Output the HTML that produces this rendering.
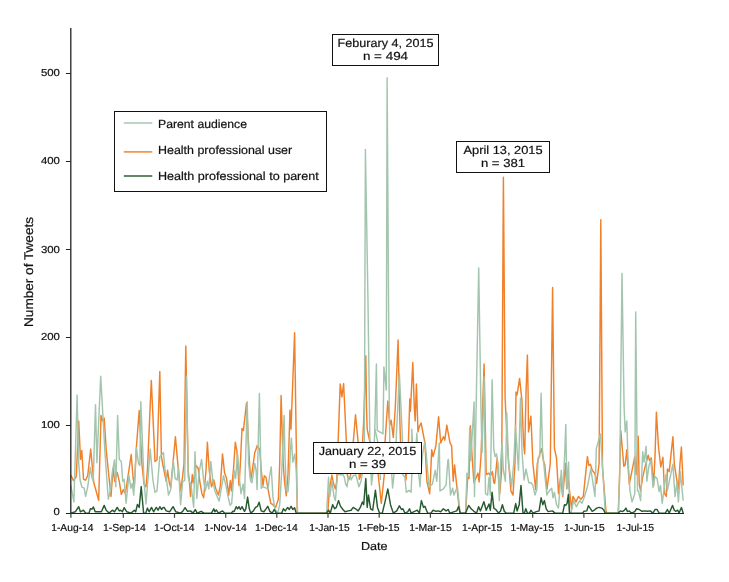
<!DOCTYPE html><html><head><meta charset="utf-8"><title>Tweets chart</title><style>html,body{margin:0;padding:0;background:#fff}svg{display:block;text-rendering:geometricPrecision}text{font-family:"Liberation Sans",sans-serif;fill:#111;stroke:#111;stroke-width:.2px}</style></head><body>
<svg width="729" height="582" viewBox="0 0 729 582">
<defs><filter id="gs" x="0" y="0" width="729" height="582" filterUnits="userSpaceOnUse" color-interpolation-filters="sRGB"><feColorMatrix type="saturate" values="0"/></filter></defs>
<rect width="729" height="582" fill="#fff"/>
<g fill="none" stroke-linejoin="round" stroke-linecap="butt" stroke-width="1.45">
<polyline points="70.8,475.1 73.5,480.6 76.3,476.5 78.7,420.9 80.5,459.4 81.8,450.4 83.5,479.3 85.6,480.2 87.7,475.8 90.7,449.1 92.2,465.5 93.8,482.7 98.7,500.3 101.0,415.4 102.5,420.9 104.2,418.2 106.2,449.7 109.0,477.2 111.0,496.4 113.1,468.3 114.7,481.3 117.2,472.4 119.3,481.3 121.3,494.4 123.4,489.6 125.4,493.7 128.9,470.3 131.2,454.5 133.0,477.2 134.4,486.8 136.4,447.0 139.2,410.6 141.9,463.5 144.0,484.1 146.0,486.8 147.4,470.3 151.3,380.4 155.0,461.4 157.0,460.0 159.8,371.5 161.4,456.6 163.0,465.5 166.2,481.3 167.6,470.3 169.3,482.7 170.7,487.5 175.4,436.7 177.9,464.9 180.6,490.9 182.7,475.8 184.0,463.5 185.8,346.0 188.2,470.3 189.5,482.7 190.5,496.4 192.3,474.5 193.4,482.7 196.0,465.5 198.2,468.3 199.8,481.3 201.9,493.7 203.7,497.8 206.0,470.3 207.4,442.2 209.2,470.3 211.5,486.8 213.8,480.0 215.6,488.2 218.4,495.1 220.4,485.4 222.5,453.9 224.6,473.1 226.6,478.6 228.7,495.1 230.3,480.6 231.4,490.9 233.5,469.0 235.3,442.2 236.9,451.1 239.0,485.4 240.4,463.5 242.0,428.5 243.4,430.6 246.5,403.1 249.3,459.4 250.7,480.0 252.3,470.3 254.8,452.5 256.8,447.0 257.1,445.6 259.8,449.7 261.2,470.3 263.0,485.4 264.3,475.8 266.0,477.2 268.1,489.6 270.8,503.3 272.9,504.7 275.6,507.4 278.4,499.2 279.7,463.5 281.1,395.5 283.2,463.5 284.5,481.3 286.3,495.8 288.0,474.5 290.0,410.0 291.0,429.2 294.6,332.8 297.3,513.1 327.8,513.1 329.2,490.9 330.3,484.1 331.9,475.1 333.6,484.1 335.4,488.9 336.7,481.3 340.2,383.9 341.9,396.9 343.6,383.6 346.4,442.2 347.3,474.5 348.7,480.0 350.5,475.8 355.5,414.8 358.2,442.9 359.3,479.3 360.7,475.8 363.7,420.9 365.8,355.8 366.5,407.2 367.2,429.2 369.2,438.8 378.2,474.5 381.3,503.3 384.3,474.5 385.0,442.9 387.8,401.0 389.8,425.1 391.2,420.3 393.3,437.4 395.3,407.2 398.1,340.0 399.2,393.5 400.1,429.2 401.5,470.0 404.0,450.0 406.0,480.0 408.4,442.9 409.8,399.0 410.4,411.3 412.8,362.4 414.3,407.2 415.2,420.9 416.4,383.9 418.0,431.9 419.4,426.4 421.1,423.0 424.9,442.9 426.9,481.3 429.7,493.7 431.7,449.7 433.1,456.6 435.9,445.6 438.6,416.8 440.7,442.9 443.4,436.7 444.8,440.2 446.8,425.1 450.0,442.9 451.6,445.6 453.2,481.3 454.6,464.9 456.7,485.4 459.4,510.2 460.8,513.1 465.6,513.1 467.7,477.2 469.0,478.6 470.4,425.8 472.1,456.6 473.9,482.7 478.0,473.1 479.1,482.0 481.0,456.6 484.1,364.0 486.2,474.5 489.0,473.1 490.3,475.8 492.4,471.7 493.8,482.7 494.7,483.4 497.2,458.0 499.7,493.7 501.7,470.0 503.4,177.3 505.1,398.0 506.8,432.0 508.2,456.6 510.9,490.9 513.0,495.1 515.0,463.5 516.0,392.1 517.1,394.9 519.6,378.4 521.9,400.3 523.6,444.2 524.7,453.9 526.0,393.5 527.4,355.1 528.1,393.5 528.5,431.9 530.9,416.1 532.9,463.5 535.7,489.6 537.3,463.5 539.8,453.9 541.6,448.4 543.4,460.7 544.8,464.9 546.9,489.6 550.3,463.5 552.6,287.5 554.4,448.4 556.5,458.0 558.5,493.7 560.6,477.2 562.7,496.4 564.0,481.3 565.4,463.5 566.8,488.9 568.2,477.2 569.5,490.3 571.6,509.5 573.0,496.4 576.0,501.9 578.5,496.4 580.9,499.2 583.3,496.4 587.4,456.6 588.8,465.5 590.4,464.2 592.2,470.3 595.0,473.8 596.6,483.4 599.1,463.5 600.8,219.6 602.5,468.0 605.9,510.2 606.6,513.1 618.3,513.1 619.7,470.3 620.8,430.6 622.4,449.7 623.8,466.2 625.2,464.9 626.8,449.7 629.3,484.1 634.8,456.6 636.1,474.5 638.2,436.1 639.2,484.1 640.6,490.9 642.7,477.2 645.4,465.5 648.2,455.2 649.5,460.7 651.3,458.0 653.6,485.4 655.0,456.6 656.4,412.3 658.5,447.0 660.8,466.9 662.9,457.3 664.6,493.7 666.3,496.4 667.4,469.0 669.2,471.7 670.8,456.6 672.9,436.7 674.3,463.5 676.3,477.2 678.4,488.9 680.0,463.5 681.4,447.0 683.2,485.4" stroke="#f0812b"/>
<polyline points="70.8,485.4 73.9,501.9 77.1,395.1 78.7,463.5 80.1,480.0 81.8,486.8 84.2,488.2 85.6,496.4 87.7,486.8 90.4,467.6 91.8,477.2 93.2,481.3 95.5,404.7 96.9,462.8 100.7,376.3 104.8,449.7 106.2,470.3 108.3,499.2 110.3,490.9 112.4,471.7 114.5,460.0 115.8,486.8 117.6,415.4 119.3,459.4 121.3,461.4 122.7,481.3 124.1,479.3 126.1,503.3 128.9,475.1 130.9,488.2 132.3,483.4 133.7,495.1 136.4,447.7 138.5,463.5 139.9,465.5 140.8,401.7 144.0,481.3 146.0,504.0 148.1,477.2 150.2,449.1 152.9,480.0 155.0,492.3 157.0,490.9 159.8,456.6 160.0,456.6 163.4,452.5 164.8,467.6 166.9,482.7 168.5,495.1 170.7,489.6 173.3,460.7 175.1,478.6 177.2,480.0 178.5,467.6 180.6,504.7 182.7,481.3 184.7,480.6 186.4,376.3 188.2,477.2 189.3,481.3 190.9,484.1 193.7,507.4 195.0,451.8 196.8,498.5 199.2,471.7 201.6,459.4 203.7,481.3 205.3,490.9 207.4,481.3 208.8,488.9 210.8,461.4 212.9,481.3 214.9,490.9 219.1,501.2 223.5,475.8 225.9,485.4 228.0,496.4 230.1,505.4 231.7,503.3 234.2,470.3 235.6,478.6 237.6,453.9 239.7,481.3 241.0,493.7 243.1,484.1 244.5,498.5 247.2,401.7 248.6,463.5 250.7,481.3 252.0,482.7 254.8,463.5 256.1,470.3 257.1,489.6 259.4,393.5 261.2,488.2 263.2,486.8 268.1,488.9 269.4,477.2 271.2,466.9 272.9,496.4 274.9,508.8 277.7,513.1 279.7,504.7 281.8,470.3 284.1,415.4 284.8,449.7 286.3,490.9 288.0,491.6 289.3,477.2 290.4,449.7 291.4,438.1 292.8,462.1 294.8,453.9 296.2,470.3 297.6,513.1 326.7,513.1 328.5,477.2 329.9,496.4 331.9,481.3 334.0,496.4 335.4,500.6 337.4,475.8 339.1,473.8 340.9,475.1 342.9,474.5 344.3,477.2 345.7,484.1 347.0,486.8 348.4,477.2 350.5,476.5 351.1,480.0 353.2,475.8 353.4,475.8 355.5,474.5 356.9,478.6 358.9,486.8 361.0,481.3 364.3,462.0 365.4,149.5 367.9,296.0 369.9,442.9 371.5,485.0 373.2,470.0 374.8,429.0 376.4,364.0 377.2,430.3 383.0,433.8 383.9,367.0 386.3,390.1 387.1,77.7 389.2,400.0 389.8,443.0 392.6,488.0 394.5,470.0 396.0,442.9 399.4,374.2 402.2,433.3 402.5,443.0 402.9,474.5 404.9,477.2 406.3,492.3 409.1,490.3 411.1,492.3 411.8,474.5 411.8,429.2 414.0,470.0 416.9,433.3 418.7,474.5 420.1,486.8 420.7,474.5 422.8,452.5 424.9,441.5 426.2,453.9 429.0,486.8 432.4,484.1 435.2,470.3 436.8,481.3 439.3,442.9 440.0,490.9 443.4,488.9 446.1,484.8 447.8,460.7 448.4,459.4 450.5,495.1 452.6,488.2 453.9,495.1 457.4,486.8 460.1,513.1 465.6,513.1 467.0,473.1 468.4,475.8 469.7,427.8 470.7,460.7 474.1,402.0 474.5,496.4 478.7,268.0 481.0,411.3 482.1,452.5 484.1,377.0 485.5,493.7 487.6,495.1 489.0,477.2 490.3,495.1 492.1,379.7 493.8,449.7 495.1,456.6 496.5,453.9 497.9,463.5 499.3,500.6 500.6,463.5 502.0,442.9 503.4,470.3 505.4,481.3 506.8,412.7 508.5,463.5 509.6,470.3 511.6,486.8 513.7,463.5 515.5,425.8 517.1,449.7 518.5,470.3 520.5,398.3 521.9,449.7 524.0,480.0 526.0,469.0 527.4,475.8 528.8,482.7 530.9,482.7 532.9,485.4 535.0,495.1 536.8,489.6 538.1,458.0 539.8,456.6 541.1,393.2 542.5,449.7 544.8,474.5 546.9,495.1 548.2,492.3 551.7,488.2 553.0,497.8 554.4,492.3 556.5,504.7 558.5,508.1 561.3,470.3 562.7,495.1 564.7,453.9 565.8,424.4 566.8,488.2 568.6,462.1 569.5,513.1 570.9,513.1 573.6,500.6 576.4,506.7 579.8,500.6 581.9,503.3 584.6,496.4 587.4,486.8 590.8,469.0 595.0,496.4 596.3,448.4 600.4,434.0 603.2,477.2 605.2,513.1 618.3,513.1 619.7,477.2 622.0,273.4 624.1,407.2 625.2,431.9 626.8,420.9 627.9,456.6 630.0,490.9 632.0,501.9 634.8,493.7 635.7,312.0 637.5,490.9 638.5,490.9 640.6,500.6 642.7,451.8 644.0,462.1 646.1,446.3 646.8,481.3 648.9,466.2 650.9,460.0 653.0,487.5 655.0,476.5 657.1,478.6 659.1,491.6 660.5,485.4 662.2,503.3 666.0,474.5 667.4,490.3 672.9,464.2 675.0,496.4 677.0,482.7 678.4,501.9 680.4,471.7 681.8,486.8 683.2,500.6" stroke="#a3c5ae"/>
<polyline points="374.8,429.0 378.5,445.0 380.5,480.0" stroke="#a3c5ae"/>
<polyline points="70.8,513.1 75.3,511.8 78.7,506.7 80.4,511.8 83.5,510.2 85.6,513.1 89.0,513.1 90.4,508.8 92.1,509.1 93.4,507.0 95.2,511.8 101.4,511.8 104.2,505.4 106.2,510.2 109.0,513.1 112.4,510.2 114.5,511.8 117.2,507.4 119.3,510.9 120.6,510.2 122.4,511.8 124.1,507.7 126.8,511.8 130.9,513.1 134.4,510.2 135.7,511.8 137.4,504.4 139.2,507.4 141.2,486.6 143.6,513.1 145.8,513.1 147.4,508.1 149.1,511.8 151.5,507.4 153.6,511.8 156.3,507.4 158.1,510.2 159.8,506.7 161.6,509.5 163.2,507.4 164.1,507.4 166.2,510.9 169.6,511.8 173.1,506.7 175.8,511.8 180.6,513.1 182.7,511.3 185.1,507.7 187.5,511.3 190.5,510.9 193.0,513.1 195.4,509.5 197.1,513.1 201.2,511.3 204.0,513.1 211.5,513.1 213.8,508.8 214.9,511.8 216.3,509.9 218.4,513.1 222.5,510.9 224.6,513.1 231.4,513.1 232.8,511.3 234.2,511.6 236.2,506.7 237.6,508.8 239.0,506.7 240.4,509.5 242.0,506.7 244.5,511.3 245.8,508.8 247.6,497.1 249.3,508.8 250.7,513.1 253.4,510.9 255.5,507.4 257.5,506.3 259.1,502.2 261.2,510.9 263.9,511.8 266.0,508.8 267.8,506.3 269.8,511.3 272.2,513.1 274.2,509.5 276.3,513.1 281.8,513.1 283.4,508.8 285.2,510.9 287.7,507.4 289.3,509.5 291.1,506.3 292.8,509.5 294.6,507.7 296.2,513.1 326.4,513.1 328.5,510.2 330.3,513.1 332.6,504.7 334.7,508.8 336.3,507.4 338.5,500.6 340.4,506.1 342.9,509.5 345.0,511.8 348.4,510.9 351.1,510.2 353.2,507.4 355.5,508.8 358.2,510.9 360.3,507.4 362.4,501.9 363.7,504.7 365.8,478.6 367.2,507.4 368.5,495.1 370.6,508.8 372.7,510.2 375.4,490.3 377.5,507.4 379.5,513.1 382.3,513.1 385.0,501.9 387.8,488.9 390.5,504.7 393.3,513.1 396.7,510.9 399.4,505.8 401.5,509.5 402.9,508.8 404.9,513.1 407.7,511.8 409.5,508.8 411.1,513.1 414.6,511.3 417.3,510.2 419.4,513.1 421.4,500.6 423.5,507.4 424.9,506.3 427.6,513.1 431.0,513.1 433.1,510.2 435.9,511.3 438.6,510.9 440.7,511.8 443.4,508.8 446.1,510.9 448.2,509.5 449.8,513.1 456.7,510.9 458.7,506.3 460.1,513.1 465.6,513.1 468.6,505.4 471.1,508.8 473.9,511.3 476.6,513.1 478.6,506.7 480.4,510.9 483.9,501.7 486.2,510.2 489.0,504.0 490.3,510.2 492.1,492.3 493.8,508.1 495.8,509.5 498.6,513.1 500.6,510.9 502.4,504.7 504.3,511.3 506.1,513.1 513.7,513.1 515.7,503.6 517.1,510.9 519.2,504.7 521.0,485.4 523.0,513.1 524.4,513.1 525.8,508.8 527.4,513.1 529.5,513.1 530.9,510.2 532.9,513.1 536.4,511.6 539.1,510.9 541.1,497.8 542.8,504.7 544.4,500.6 546.2,508.8 548.2,511.6 552.4,510.9 555.1,513.1 562.7,513.1 564.5,504.7 565.8,505.4 567.1,503.3 568.4,494.4 569.5,513.1 582.6,513.1 584.0,511.3 586.7,510.9 588.4,505.8 590.1,508.1 592.2,511.3 594.3,510.2 596.6,508.1 599.1,507.4 601.8,508.1 603.9,510.2 605.2,513.1 618.3,513.1 620.4,510.9 622.4,511.6 624.5,510.2 625.9,508.1 627.5,511.6 629.3,510.9 631.4,513.1 634.8,511.6 636.1,509.5 636.5,508.8 639.2,509.5 642.0,511.3 644.7,510.9 647.5,511.3 650.2,510.9 653.0,513.1 655.0,509.5 657.1,509.5 659.1,513.1 665.3,513.1 667.4,509.5 669.2,513.1 672.6,505.4 674.3,510.2 675.6,511.3 677.7,510.2 679.1,513.1 681.4,507.4 683.2,513.1" stroke="#275a30"/>
</g>
<g stroke="#222" stroke-width="1" fill="none">
<line x1="70.8" y1="28" x2="70.8" y2="514.0" stroke-width="1.3"/>
<line x1="70.2" y1="513.5" x2="684" y2="513.5"/>
<line x1="65.89999999999999" y1="513.5" x2="70.8" y2="513.5"/>
<line x1="65.89999999999999" y1="425.5" x2="70.8" y2="425.5"/>
<line x1="65.89999999999999" y1="337.5" x2="70.8" y2="337.5"/>
<line x1="65.89999999999999" y1="249.5" x2="70.8" y2="249.5"/>
<line x1="65.89999999999999" y1="161.5" x2="70.8" y2="161.5"/>
<line x1="65.89999999999999" y1="73.5" x2="70.8" y2="73.5"/>
<line x1="70.9" y1="513.5" x2="70.9" y2="517.8" stroke-width="1.2" stroke="#444"/>
<line x1="123.3" y1="513.5" x2="123.3" y2="517.8" stroke-width="1.2" stroke="#444"/>
<line x1="174.5" y1="513.5" x2="174.5" y2="517.8" stroke-width="1.2" stroke="#444"/>
<line x1="225.7" y1="513.5" x2="225.7" y2="517.8" stroke-width="1.2" stroke="#444"/>
<line x1="276.8" y1="513.5" x2="276.8" y2="517.8" stroke-width="1.2" stroke="#444"/>
<line x1="328.0" y1="513.5" x2="328.0" y2="517.8" stroke-width="1.2" stroke="#444"/>
<line x1="379.2" y1="513.5" x2="379.2" y2="517.8" stroke-width="1.2" stroke="#444"/>
<line x1="430.4" y1="513.5" x2="430.4" y2="517.8" stroke-width="1.2" stroke="#444"/>
<line x1="481.6" y1="513.5" x2="481.6" y2="517.8" stroke-width="1.2" stroke="#444"/>
<line x1="532.7" y1="513.5" x2="532.7" y2="517.8" stroke-width="1.2" stroke="#444"/>
<line x1="583.9" y1="513.5" x2="583.9" y2="517.8" stroke-width="1.2" stroke="#444"/>
<line x1="635.1" y1="513.5" x2="635.1" y2="517.8" stroke-width="1.2" stroke="#444"/>
</g>
<rect x="114.5" y="111.5" width="212" height="80" fill="#fff" stroke="#111" stroke-width="1"/>
<line x1="123.8" y1="123" x2="152.3" y2="123" stroke="#a3c5ae" stroke-width="1.45"/>
<line x1="123.8" y1="151.9" x2="152.3" y2="151.9" stroke="#f0812b" stroke-width="1.45"/>
<line x1="123.8" y1="176" x2="152.3" y2="176" stroke="#275a30" stroke-width="1.45"/>
<rect x="332.5" y="34.5" width="106.0" height="31.0" fill="#fff" stroke="#111" stroke-width="1"/>
<rect x="456.5" y="141.5" width="93.0" height="31.0" fill="#fff" stroke="#111" stroke-width="1"/>
<rect x="313.5" y="442.5" width="108.0" height="31.0" fill="#fff" stroke="#111" stroke-width="1"/>
<g filter="url(#gs)">
<text x="59.9" y="515.3" font-size="10.1" text-anchor="end" textLength="6.3" lengthAdjust="spacingAndGlyphs">0</text>
<text x="59.9" y="428.0" font-size="10.1" text-anchor="end" textLength="19.0" lengthAdjust="spacingAndGlyphs">100</text>
<text x="59.9" y="340.4" font-size="10.1" text-anchor="end" textLength="19.0" lengthAdjust="spacingAndGlyphs">200</text>
<text x="59.9" y="252.9" font-size="10.1" text-anchor="end" textLength="19.0" lengthAdjust="spacingAndGlyphs">300</text>
<text x="59.9" y="164.1" font-size="10.1" text-anchor="end" textLength="19.0" lengthAdjust="spacingAndGlyphs">400</text>
<text x="59.9" y="76.0" font-size="10.1" text-anchor="end" textLength="19.0" lengthAdjust="spacingAndGlyphs">500</text>
<text x="51.2" y="531.0" font-size="10.1" text-anchor="start" textLength="42.4" lengthAdjust="spacingAndGlyphs">1-Aug-14</text>
<text x="103.0" y="531.0" font-size="10.1" text-anchor="start" textLength="42.9" lengthAdjust="spacingAndGlyphs">1-Sep-14</text>
<text x="154.1" y="531.0" font-size="10.1" text-anchor="start" textLength="40.5" lengthAdjust="spacingAndGlyphs">1-Oct-14</text>
<text x="204.2" y="531.0" font-size="10.1" text-anchor="start" textLength="42.5" lengthAdjust="spacingAndGlyphs">1-Nov-14</text>
<text x="254.9" y="531.0" font-size="10.1" text-anchor="start" textLength="42.9" lengthAdjust="spacingAndGlyphs">1-Dec-14</text>
<text x="309.2" y="531.0" font-size="10.1" text-anchor="start" textLength="40.4" lengthAdjust="spacingAndGlyphs">1-Jan-15</text>
<text x="357.4" y="531.0" font-size="10.1" text-anchor="start" textLength="42.2" lengthAdjust="spacingAndGlyphs">1-Feb-15</text>
<text x="409.3" y="531.0" font-size="10.1" text-anchor="start" textLength="42.4" lengthAdjust="spacingAndGlyphs">1-Mar-15</text>
<text x="462.1" y="531.0" font-size="10.1" text-anchor="start" textLength="40.3" lengthAdjust="spacingAndGlyphs">1-Apr-15</text>
<text x="510.4" y="531.0" font-size="10.1" text-anchor="start" textLength="43.7" lengthAdjust="spacingAndGlyphs">1-May-15</text>
<text x="564.0" y="531.0" font-size="10.1" text-anchor="start" textLength="40.7" lengthAdjust="spacingAndGlyphs">1-Jun-15</text>
<text x="616.6" y="531.0" font-size="10.1" text-anchor="start" textLength="37.5" lengthAdjust="spacingAndGlyphs">1-Jul-15</text>
<text x="374.2" y="550.4" font-size="11.6" text-anchor="middle" textLength="26.6" lengthAdjust="spacingAndGlyphs">Date</text>
<text transform="translate(32.7,272.0) rotate(-90)" font-size="12.6" text-anchor="middle" textLength="110" lengthAdjust="spacingAndGlyphs">Number of Tweets</text>
<text x="158.0" y="127.6" font-size="11.7" text-anchor="start" textLength="89.0" lengthAdjust="spacingAndGlyphs">Parent audience</text>
<text x="158.0" y="154.4" font-size="11.7" text-anchor="start" textLength="134.2" lengthAdjust="spacingAndGlyphs">Health professional user</text>
<text x="158.0" y="180.4" font-size="11.7" text-anchor="start" textLength="160.8" lengthAdjust="spacingAndGlyphs">Health professional to parent</text>
<text x="385.5" y="46.6" font-size="11.7" text-anchor="middle" textLength="95.8" lengthAdjust="spacingAndGlyphs">Feburary 4, 2015</text>
<text x="385.5" y="59.8" font-size="11.7" text-anchor="middle" textLength="45.2" lengthAdjust="spacingAndGlyphs">n = 494</text>
<text x="503.0" y="153.6" font-size="11.7" text-anchor="middle" textLength="79.0" lengthAdjust="spacingAndGlyphs">April 13, 2015</text>
<text x="503.0" y="166.8" font-size="11.7" text-anchor="middle" textLength="44.2" lengthAdjust="spacingAndGlyphs">n = 381</text>
<text x="367.5" y="455.2" font-size="11.7" text-anchor="middle" textLength="97.4" lengthAdjust="spacingAndGlyphs">January 22, 2015</text>
<text x="367.5" y="467.6" font-size="11.7" text-anchor="middle" textLength="37.2" lengthAdjust="spacingAndGlyphs">n = 39</text>
</g>
</svg></body></html>
